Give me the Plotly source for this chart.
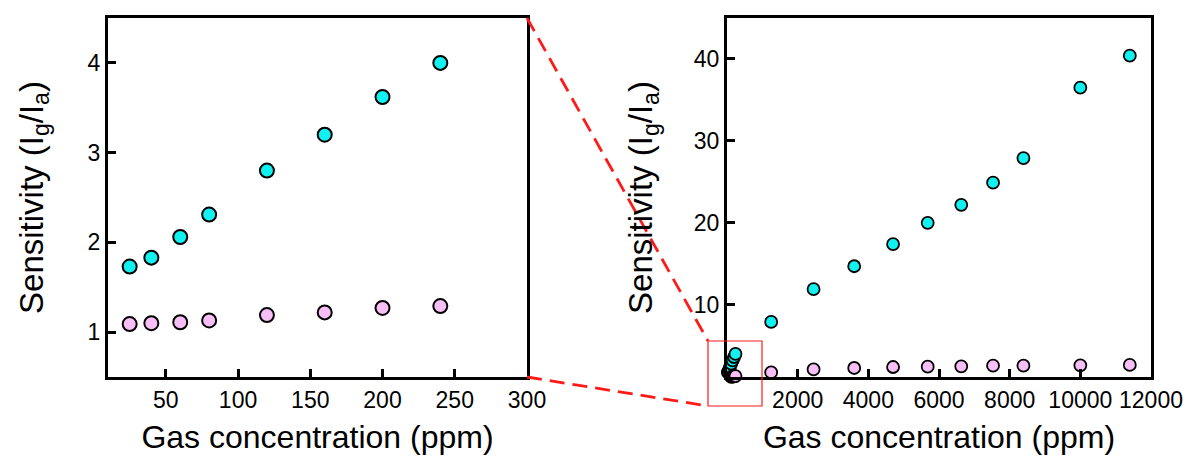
import plotly.graph_objects as go

# ---------------- data ----------------
low_conc = [25, 40, 60, 80, 120, 160, 200, 240]
low_cyan = [1.73, 1.83, 2.06, 2.31, 2.80, 3.20, 3.62, 4.00]
low_pink = [1.09, 1.10, 1.11, 1.13, 1.19, 1.22, 1.27, 1.29]

high_conc = [1250, 2450, 3600, 4700, 5680, 6630, 7530, 8390, 10000, 11400]
high_cyan = [7.9, 11.9, 14.7, 17.4, 20.0, 22.2, 24.9, 27.9, 36.5, 40.4]
high_pink = [1.74, 2.11, 2.28, 2.40, 2.44, 2.48, 2.56, 2.56, 2.60, 2.65]

left_xticks = [50, 100, 150, 200, 250, 300]
left_yticks = [1, 2, 3, 4]
left_yminor = [1.5, 2.5, 3.5]
right_xticks = [2000, 4000, 6000, 8000, 10000, 12000]
right_xlabels = ["2000", "4000", "6000", "8000", "10000", "12000"]
right_yticks = [10, 20, 30, 40]

W, H = 1184, 462
CYAN = "#10F2F2"
PINK = "#F8BEF6"
FONT = "Liberation Sans, Arial, sans-serif"

def px(x):
    return x / W

def py(y):
    return 1 - y / H

fig = go.Figure()

all_conc = low_conc + high_conc
all_cyan = low_cyan + high_cyan
all_pink = low_pink + high_pink

# left panel
fig.add_trace(go.Scatter(x=low_conc, y=low_cyan, mode="markers", xaxis="x", yaxis="y",
                         marker=dict(size=14, color=CYAN, line=dict(color="black", width=2)),
                         cliponaxis=False, showlegend=False))
fig.add_trace(go.Scatter(x=low_conc, y=low_pink, mode="markers", xaxis="x", yaxis="y",
                         marker=dict(size=14, color=PINK, line=dict(color="black", width=2)),
                         cliponaxis=False, showlegend=False))
# right panel
fig.add_trace(go.Scatter(x=all_conc, y=all_cyan, mode="markers", xaxis="x2", yaxis="y2",
                         marker=dict(size=12, color=CYAN, line=dict(color="black", width=1.8)),
                         cliponaxis=False, showlegend=False))
fig.add_trace(go.Scatter(x=all_conc, y=all_pink, mode="markers", xaxis="x2", yaxis="y2",
                         marker=dict(size=12, color=PINK, line=dict(color="black", width=1.8)),
                         cliponaxis=False, showlegend=False))

ydom = [py(377), py(18)]
tickfont = dict(family=FONT, size=23, color="black")
xtitlefont = dict(family=FONT, size=32, color="black")
ytitlefont = dict(family=FONT, size=33, color="black")
axis_common = dict(showline=True, linecolor="black", linewidth=3, mirror=True,
                   ticks="inside", ticklen=8, tickwidth=2.5, tickcolor="black",
                   showgrid=False, zeroline=False, tickfont=tickfont, automargin=False)

ytitle = "Sensitivity (I<sub>g</sub>/I<sub>a</sub>)"
xtitle = "Gas concentration (ppm)"

fig.update_layout(
    template="none",
    width=W, height=H,
    margin=dict(l=0, r=0, t=0, b=0, pad=0),
    paper_bgcolor="white", plot_bgcolor="white",
    font=dict(family=FONT, color="black"),
    xaxis=dict(domain=[px(108), px(527)], range=[10, 300], tickvals=left_xticks,
               title=dict(text=xtitle, font=xtitlefont, standoff=15), anchor="y", **axis_common),
    yaxis=dict(domain=ydom, range=[0.5, 4.5], tickvals=left_yticks,
               title=dict(text=ytitle, font=ytitlefont, standoff=35), anchor="x", **axis_common),
    yaxis3=dict(overlaying="y", side="right", anchor="x", range=[0.5, 4.5], tickvals=left_yminor,
                showticklabels=False, ticks="inside", ticklen=4, tickwidth=2.5, tickcolor="black",
                showgrid=False, zeroline=False, showline=False, automargin=False),
    xaxis2=dict(domain=[px(727), px(1151)], range=[0, 12000], tickvals=right_xticks,
                ticktext=right_xlabels,
                title=dict(text=xtitle, font=xtitlefont, standoff=15), anchor="y2", **axis_common),
    yaxis2=dict(domain=ydom, range=[1.18, 45], tickvals=right_yticks,
                title=dict(text=ytitle, font=ytitlefont, standoff=32), anchor="x2", **axis_common),
)

# zoom indicator: red rectangle and dashed connectors (paper coordinates)
red = "#FF1A1A"
fig.add_shape(type="rect", xref="paper", yref="paper",
              x0=px(708), x1=px(762), y0=py(406), y1=py(341),
              line=dict(color=red, width=1.2))
fig.add_shape(type="line", xref="paper", yref="paper",
              x0=px(527), y0=py(18), x1=px(708), y1=py(341),
              line=dict(color=red, width=2.8, dash="15px,8px"))
fig.add_shape(type="line", xref="paper", yref="paper",
              x0=px(527), y0=py(377), x1=px(708), y1=py(406),
              line=dict(color=red, width=2.8, dash="15px,8px"))

fig.write_html(
    "out.html",
    config={"displayModeBar": False},
    post_script="document.body.style.margin='0';document.body.style.overflow='hidden';",
)
